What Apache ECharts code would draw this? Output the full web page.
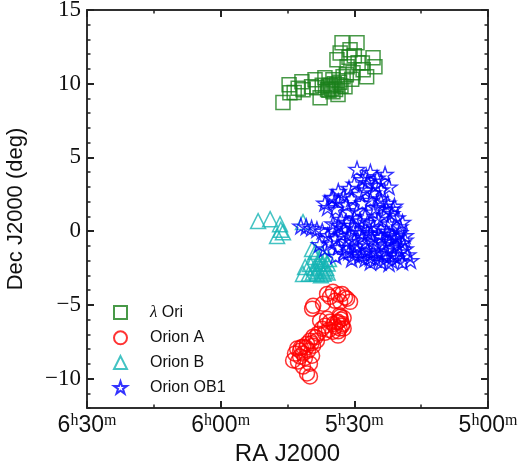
<!DOCTYPE html>
<html><head><meta charset="utf-8">
<script src="https://cdn.jsdelivr.net/npm/echarts@6/dist/echarts.min.js"></script>
<style>html,body{margin:0;padding:0;background:#fff}#c{width:520px;height:465px}</style>
</head><body><div id="c"></div>
<script>
// [RA (hours), Dec (deg)]
const lambdaOri = [[5.767,8.72],[5.744,9.93],[5.741,9.39],[5.696,10.14],[5.692,9.59],[5.647,10.27],[5.640,9.73],[5.628,9.05],[5.610,10.41],[5.598,9.80],[5.580,10.27],[5.565,9.93],[5.561,9.26],[5.546,12.77],[5.565,11.62],[5.553,12.09],[5.527,11.15],[5.516,12.30],[5.490,12.77],[5.486,11.42],[5.505,10.74],[5.467,10.95],[5.454,10.47],[5.430,11.76],[5.423,11.15],[5.535,9.80],[5.542,10.47],[5.600,9.60],[5.590,9.90],[5.585,9.70],[5.575,10.00],[5.570,9.60],[5.580,9.45],[5.595,9.55],[5.555,10.10],[5.550,9.85],[5.620,9.90],[5.660,9.80],[5.710,9.70],[5.725,9.40],[5.530,10.60],[5.520,11.80],[5.500,11.90],[5.470,11.40],[5.510,10.30]];
const orionA = [[5.602,-4.26],[5.580,-4.12],[5.546,-4.26],[5.527,-4.59],[5.516,-4.80],[5.553,-4.80],[5.572,-4.73],[5.591,-4.46],[5.617,-4.93],[5.658,-5.27],[5.654,-5.07],[5.553,-5.81],[5.561,-6.15],[5.546,-6.42],[5.572,-6.49],[5.580,-6.82],[5.561,-7.09],[5.602,-5.95],[5.610,-6.42],[5.621,-6.62],[5.636,-6.96],[5.654,-7.16],[5.666,-7.43],[5.677,-7.64],[5.692,-7.84],[5.703,-8.11],[5.714,-7.97],[5.722,-8.31],[5.729,-8.78],[5.711,-8.85],[5.692,-9.19],[5.677,-9.66],[5.666,-9.86],[5.703,-8.51],[5.692,-8.31],[5.673,-8.11],[5.658,-8.45],[5.666,-8.99],[5.654,-7.77],[5.640,-7.43],[5.591,-6.15],[5.628,-6.08],[5.550,-6.00],[5.545,-6.30],[5.555,-6.60],[5.565,-6.20],[5.540,-5.90],[5.560,-6.80],[5.685,-8.60],[5.700,-7.90],[5.680,-7.90],[5.660,-7.60],[5.645,-7.20],[5.610,-6.90],[5.595,-6.70],[5.578,-6.30],[5.540,-6.60],[5.555,-5.70],[5.560,-4.30],[5.535,-4.50]];
const orionB = [[5.860,0.68],[5.815,0.81],[5.778,0.47],[5.789,-0.34],[5.767,-0.07],[5.692,0.61],[5.658,-1.22],[5.647,-1.76],[5.684,-2.43],[5.692,-2.91],[5.640,-2.70],[5.617,-2.23],[5.610,-2.70],[5.628,-2.03],[5.666,-2.23],[5.621,-1.55],[5.630,-2.40],[5.620,-2.60],[5.615,-2.90],[5.625,-3.00],[5.640,-2.90],[5.605,-2.50],[5.600,-2.20],[5.595,-1.90],[5.610,-1.90],[5.635,-2.20],[5.650,-2.50],[5.655,-2.80],[5.670,-2.90],[5.600,-2.80],[5.645,-1.40],[5.775,0.10]];
const orionOB1 = [[5.49,4.2],[5.44,4.0],[5.385,3.85],[5.47,3.5],[5.50,3.2],[5.42,3.1],[5.45,3.3],[5.40,3.4],[5.46,2.8],[5.43,2.6],[5.48,2.5],[5.40,2.8],[5.52,2.9],[5.37,3.0],[5.455,3.7],[5.415,3.6],
[5.58,2.3],[5.61,1.9],[5.60,1.6],[5.56,2.0],[5.54,2.4],[5.53,1.8],[5.51,2.2],[5.57,1.5],[5.52,1.3],[5.56,2.7],[5.585,2.25],
[5.47,1.9],[5.44,2.1],[5.42,1.6],[5.40,2.0],[5.38,1.5],[5.36,1.2],[5.34,0.9],[5.35,1.7],[5.39,1.1],[5.43,1.3],[5.46,1.0],[5.49,1.4],[5.45,0.6],[5.41,0.8],[5.37,0.5],[5.33,0.3],[5.32,0.6],[5.48,0.7],[5.50,0.9],[5.43,0.3],[5.40,0.2],[5.38,0.0],[5.46,0.2],[5.51,0.4],[5.53,0.6],[5.55,0.8],[5.36,-0.2],[5.34,-0.4],[5.31,-0.3],[5.355,1.5],[5.405,2.2],[5.375,1.9],
[5.70,0.35],[5.68,0.3],[5.66,0.2],[5.64,0.1],[5.62,0.0],[5.60,-0.3],[5.58,0.1],[5.57,-0.5],[5.59,-0.8],[5.61,-1.2],[5.63,-0.9],[5.56,-1.1],[5.55,-0.2],[5.54,-1.5],[5.57,-1.7],[5.53,-0.7],
[5.52,-0.3],[5.50,-0.6],[5.49,-1.0],[5.47,-0.4],[5.46,-0.8],[5.45,-1.3],[5.44,-0.2],[5.43,-0.6],[5.42,-1.0],[5.41,-1.5],[5.40,-0.4],[5.39,-0.9],[5.38,-1.3],[5.37,-0.7],[5.36,-1.1],[5.35,-0.5],[5.34,-1.0],[5.33,-1.4],[5.32,-0.8],[5.31,-1.2],[5.30,-1.6],[5.29,-2.0],[5.32,-2.1],[5.34,-1.8],[5.36,-2.0],[5.38,-1.8],[5.40,-2.1],[5.42,-1.9],[5.44,-1.8],[5.46,-1.9],[5.48,-1.7],[5.50,-1.6],[5.52,-1.4],[5.51,-1.9],[5.53,-1.1],[5.49,-1.3],[5.47,-1.5],[5.43,-1.4],[5.39,-1.6],[5.35,-1.6],[5.33,-0.1],[5.31,-0.6],[5.45,-0.1],[5.48,-0.1],[5.41,-0.2],[5.37,-0.3],[5.50,0.1],[5.54,0.2],[5.56,0.4],[5.58,0.5],[5.44,-2.1],[5.37,-2.2]];

const seriesNames = ['λ Ori', 'Orion A', 'Orion B', 'Orion OB1'];
const raRange = [5, 6.5];
const raMajorTicks = [5, 5.5, 6, 6.5];
const raMinorTicks = [5.25, 5.75, 6.25];
const decRange = [-12, 15];
const decMajorTicks = [-10, -5, 0, 5, 10, 15];
const decMinorTicks = [-12,-11,-9,-8,-7,-6,-4,-3,-2,-1,1,2,3,4,6,7,8,9,11,12,13,14];

const STAR = 'path://M50 0 L61.23 34.55 L97.55 34.55 L68.17 55.9 L79.39 90.45 L50 69.1 L20.61 90.45 L31.83 55.9 L2.45 34.55 L38.77 34.55 Z';
const AX = '#222';

function raLabel(v) {
  const h = Math.floor(v + 1e-9);
  const m = Math.round((v - h) * 60);
  return '{a|' + h + '}{s|h}{a|' + String(m).padStart(2, '0') + '}{s|m}';
}
function decLabel(v) { return v < 0 ? '\u2212' + Math.abs(v) : String(v); }

function xAx(pos, ticks, len, w, showLabel, extra) {
  return Object.assign({
    type: 'value', position: pos, min: raRange[0], max: raRange[1], inverse: true,
    axisLine: { show: true, onZero: false, lineStyle: { color: AX, width: 1.5 } },
    axisTick: { show: true, inside: true, length: len, customValues: ticks, lineStyle: { color: AX, width: w } },
    axisLabel: { show: false }, splitLine: { show: false }
  }, extra || {});
}
function yAx(pos, ticks, len, w, extra) {
  return Object.assign({
    type: 'value', position: pos, min: decRange[0], max: decRange[1],
    axisLine: { show: true, onZero: false, lineStyle: { color: AX, width: 1.5 } },
    axisTick: { show: true, inside: true, length: len, customValues: ticks, lineStyle: { color: AX, width: w } },
    axisLabel: { show: false }, splitLine: { show: false }
  }, extra || {});
}

const chart = echarts.init(document.getElementById('c'), null, { renderer: 'canvas' });
chart.setOption({
  animation: false,
  backgroundColor: '#fff',
  grid: { left: 87, right: 32, top: 10, bottom: 57, containLabel: false, outerBoundsMode: 'none' },
  xAxis: [
    xAx('bottom', raMajorTicks, 7, 2, true, {
      name: 'RA J2000', nameLocation: 'middle', nameGap: 34,
      nameTextStyle: { fontFamily: 'Liberation Sans', fontSize: 24, color: '#111' },
      axisLabel: {
        show: true, margin: 5, customValues: raMajorTicks, formatter: raLabel,
        rich: {
          a: { fontFamily: 'Liberation Sans', fontSize: 23, color: '#111', lineHeight: 26 },
          s: { fontFamily: 'Liberation Serif', fontSize: 16, color: '#111', lineHeight: 10, verticalAlign: 'top' }
        }
      }
    }),
    xAx('bottom', raMinorTicks, 3.5, 1.5),
    xAx('top', raMajorTicks, 7, 2),
    xAx('top', raMinorTicks, 3.5, 1.5)
  ],
  yAxis: [
    yAx('left', decMajorTicks, 7, 2, {
      name: 'Dec J2000 (deg)', nameLocation: 'middle', nameGap: 60,
      nameTextStyle: { fontFamily: 'Liberation Sans', fontSize: 22, color: '#111' },
      axisLabel: { show: true, margin: 6, customValues: decMajorTicks, formatter: decLabel,
        fontFamily: 'Liberation Serif', fontSize: 23, color: '#111' }
    }),
    yAx('left', decMinorTicks, 3.5, 1.5),
    yAx('right', decMajorTicks, 7, 2),
    yAx('right', decMinorTicks, 3.5, 1.5)
  ],
  legend: {
    orient: 'vertical', left: 113, top: 304, padding: 0, itemWidth: 13, itemHeight: 13, itemGap: 8.8,
    data: seriesNames,
    formatter: function (n) { return n === 'λ Ori' ? '{l|λ} Ori' : n; },
    textStyle: { fontFamily: 'Liberation Sans', fontSize: 16, color: '#111', lineHeight: 13, padding: [0, 0, 0, 18],
      rich: { l: { fontFamily: 'Liberation Serif', fontStyle: 'italic', fontSize: 17, color: '#111' } } }
  },
  series: [
    { name: seriesNames[0], type: 'scatter', data: lambdaOri, symbol: 'rect', symbolSize: 14,
      itemStyle: { color: 'rgba(0,0,0,0)', borderColor: '#1a7f1a', borderWidth: 1.5 } },
    { name: seriesNames[1], type: 'scatter', data: orionA, symbol: 'circle', symbolSize: 15,
      itemStyle: { color: 'rgba(0,0,0,0)', borderColor: '#ff0000', borderWidth: 1.5 } },
    { name: seriesNames[2], type: 'scatter', data: orionB, symbol: 'triangle', symbolSize: 15,
      itemStyle: { color: 'rgba(0,0,0,0)', borderColor: '#14b4b4', borderWidth: 1.5 } },
    { name: seriesNames[3], type: 'scatter', data: orionOB1, symbol: STAR, symbolSize: 16, symbolKeepAspect: true,
      itemStyle: { color: 'rgba(0,0,0,0)', borderColor: '#0000ff', borderWidth: 1.4 } }
  ]
});
</script>
</body></html>
